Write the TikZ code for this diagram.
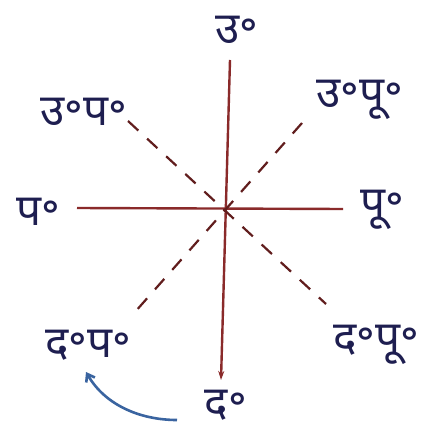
\documentclass[tikz,border=0pt]{standalone}
\usepackage{fontspec}
\newfontfamily\dev[Script=Devanagari]{Noto Sans}
\usetikzlibrary{arrows.meta}
\definecolor{ink}{HTML}{1E1E50}
\definecolor{axis}{HTML}{8A2A2A}
\definecolor{blueink}{HTML}{3A64A0}
\tikzset{
  lbl/.style={font=\dev\fontsize{44}{50}\selectfont, text=ink, inner sep=0pt},
  axisline/.style={draw=axis, line width=2.4pt},
  diag/.style={draw=axis!70!black, line width=2.2pt, dash pattern=on 14pt off 12pt}
}
\begin{document}
\begin{tikzpicture}[x=1pt,y=-1pt]
\fill[white] (0,0) rectangle (428,430);
\useasboundingbox (0,0) rectangle (428,430);
% labels
\node[lbl] (n)  at (237,30)  {उ॰};
\node[lbl] (nw) at (84,112)  {उ॰प॰};
\node[lbl] (ne) at (360,100) {उ॰पू॰};
\node[lbl] (w)  at (38,212)  {प॰};
\node[lbl] (e)  at (382,210) {पू॰};
\node[lbl] (sw) at (88,345)  {द॰प॰};
\node[lbl] (se) at (376,345) {द॰पू॰};
\node[lbl] (s)  at (226,405) {द॰};
% axis coordinates
\coordinate (c)  at (228,208);
\coordinate (nt) at (230,60);
\coordinate (sb) at (221,380);
\coordinate (wt) at (77,208);
\coordinate (et) at (343,209);
\coordinate (nwt) at (128,121);
\coordinate (set) at (326,304);
\coordinate (net) at (302,123);
\coordinate (swt) at (135,312);
% axes
\draw[axisline] (wt) -- (et);
\draw[axisline, -{Stealth[length=9pt,width=6pt]}] (nt) -- (sb);
% diagonals
\draw[diag] (nwt) -- (set);
\draw[diag] (net) -- (swt);
% blue arrow
\coordinate (bt) at (177,420);
\coordinate (bh) at (86,372);
\draw[blueink, line width=2.6pt, -{Straight Barb[length=7pt,width=10pt]}] (bt) .. controls (140,420) and (105,405) .. (bh);
\end{tikzpicture}
\end{document}
